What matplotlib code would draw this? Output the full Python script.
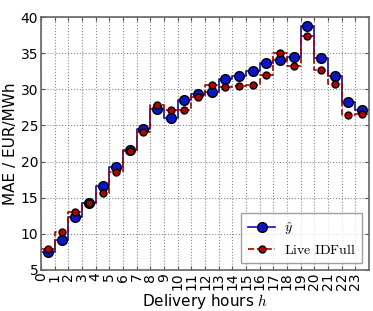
import numpy as np
import matplotlib
matplotlib.use("Agg")
import matplotlib.pyplot as plt

plt.rcParams['mathtext.fontset'] = 'cm'

# MAE par heure de livraison
hours = np.arange(24)
mae_yhat = [7.45, 9.15, 12.3, 14.2, 16.6, 19.2, 21.6, 24.5, 27.3, 26.0, 28.5, 29.4,
            29.7, 31.4, 31.9, 32.5, 33.6, 34.0, 34.5, 38.8, 34.4, 31.9, 28.2, 27.2]
mae_live = [7.9, 10.3, 13.0, 14.2, 15.7, 18.55, 21.4, 24.1, 27.8, 27.1, 27.2, 29.0,
            30.6, 30.3, 30.4, 30.6, 32.0, 35.1, 33.3, 37.4, 32.7, 30.7, 26.4, 26.6]

fig = plt.figure(figsize=(3.73, 3.11), dpi=100)
ax = fig.add_axes([0.11, 0.132, 0.879, 0.813])

edges = np.arange(25)
ax.step(edges, mae_yhat + [mae_yhat[-1]], where='post', color='#1010b0', lw=1.2, zorder=2)
ax.step(edges, mae_live + [mae_live[-1]], where='post', color='#b00000', lw=1.2,
        ls='--', zorder=2)
ax.plot(hours + 0.5, mae_yhat, 'o', color='#1010b0', mfc='#0a14c8', mec='black',
        ms=7, mew=1.0, zorder=3)
ax.plot(hours + 0.5, mae_live, 'o', color='#b00000', mfc='#b00000', mec='black',
        ms=5, mew=1.0, zorder=4)

# legende
l1, = ax.plot([], [], '-o', color='#1010b0', mfc='#0a14c8', mec='black', ms=7, lw=1.2)
l2, = ax.plot([], [], '--o', color='#b00000', mfc='#b00000', mec='black', ms=5, lw=1.2)
leg = ax.legend([l1, l2], [r'$\hat{y}$', r'$\mathrm{Live\ IDFull}$'], loc='lower right',
                fontsize=10, numpoints=1, fancybox=False, borderaxespad=0.5,
                handlelength=2.0, borderpad=0.45, labelspacing=0.45, handletextpad=0.6)
leg.get_frame().set_edgecolor('#888888')

ax.set_xlim(0, 24)
ax.set_ylim(5, 40)
ax.set_xticks(hours)
ax.set_xticklabels([str(h) for h in hours], rotation=90, fontsize=10)
ax.set_yticks(np.arange(5, 41, 5))
ax.tick_params(axis='y', labelsize=10)
ax.tick_params(direction='in', length=3, pad=2, color='#555555', top=True, right=True)
ax.grid(True, ls=':', color='#888888', lw=0.8)
for s in ax.spines.values():
    s.set_color('#666666')
    s.set_linewidth(1.2)

ax.set_xlabel('Delivery hours $h$', fontsize=11, labelpad=1)
ax.set_ylabel('MAE / EUR/MWh', fontsize=11, labelpad=2)

fig.savefig('out.png', dpi=100)
